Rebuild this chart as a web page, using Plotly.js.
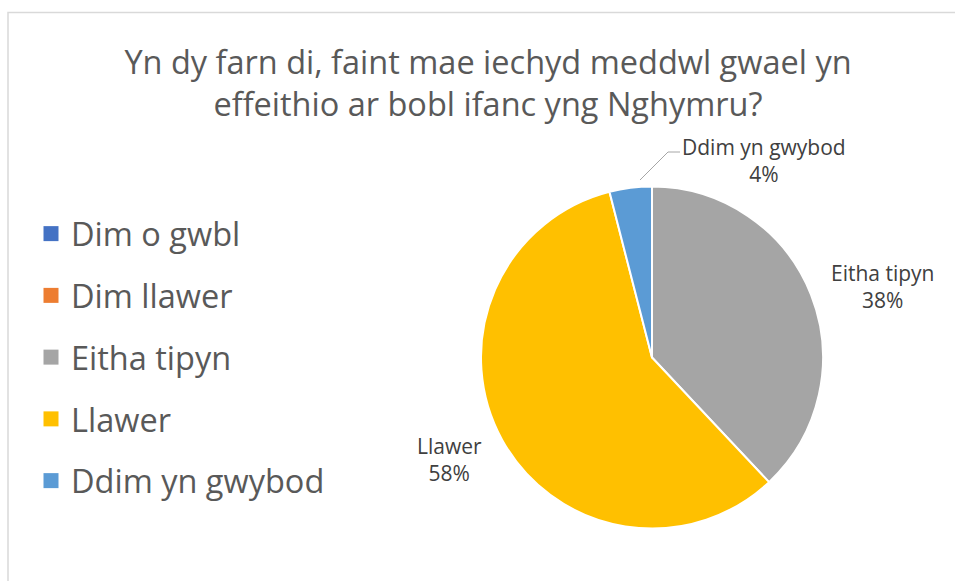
<!DOCTYPE html>
<html>
<head>
<meta charset="utf-8">
<script src="https://cdn.plot.ly/plotly-3.0.1.min.js"></script>
<style>
html,body{margin:0;padding:0;background:#fff;}
#chart{width:955px;height:581px;}
</style>
</head>
<body>
<div id="chart"></div>
<script>
var titleLines = ["Yn dy farn di, faint mae iechyd meddwl gwael yn", "effeithio ar bobl ifanc yng Nghymru?"];
var categories = ["Dim o gwbl", "Dim llawer", "Eitha tipyn", "Llawer", "Ddim yn gwybod"];
var values = [0, 0, 38, 58, 4];
var colors = ["#4472C4", "#ED7D31", "#A5A5A5", "#FFC000", "#5B9BD5"];

var W = 955, H = 581;
function px(x){ return x / W; }
function py(y){ return 1 - y / H; }

var total = values.reduce(function(a,b){return a+b;}, 0);
function pct(i){ return Math.round(values[i] / total * 100) + "%"; }

var cx = 652, cy = 357.5, r = 171;
var FONT = "'Open Sans', 'Noto Sans', sans-serif";

var traces = [{
  type: "pie",
  labels: categories,
  values: values,
  sort: false,
  direction: "clockwise",
  rotation: 0,
  marker: {colors: colors, line: {color: "#ffffff", width: 2}},
  textinfo: "none",
  hoverinfo: "label+percent",
  showlegend: false,
  domain: {x: [px(cx - r), px(cx + r)], y: [py(cy + r), py(cy - r)]}
}];

categories.forEach(function(c, i){
  traces.push({
    type: "scatter",
    mode: "markers",
    x: [null], y: [null],
    name: c,
    legendgroup: "g" + i,
    marker: {symbol: "square", size: 15, color: colors[i]},
    showlegend: true,
    hoverinfo: "skip"
  });
});

var labelFont = {family: FONT, size: 21, color: "#404040"};
var labelPos = {2: [883, 286], 3: [449, 460], 4: [764, 160]};
var annotations = [];
[2, 3, 4].forEach(function(i){
  annotations.push({
    xref: "paper", yref: "paper",
    x: px(labelPos[i][0]), y: py(labelPos[i][1]),
    xanchor: "center", yanchor: "middle",
    text: categories[i] + "<br>" + pct(i),
    showarrow: false,
    align: "center",
    font: labelFont
  });
});

var layout = {
  width: W, height: H,
  margin: {l: 0, r: 0, t: 0, b: 0},
  paper_bgcolor: "#ffffff",
  plot_bgcolor: "rgba(0,0,0,0)",
  title: {
    text: titleLines.join("<br>"),
    x: px(488), xanchor: "center",
    y: py(74), yanchor: "middle",
    yref: "container",
    font: {family: FONT, size: 32.5, color: "#595959"}
  },
  xaxis: {visible: false},
  yaxis: {visible: false},
  showlegend: true,
  legend: {
    x: px(31), xanchor: "left",
    y: py(206), yanchor: "top",
    font: {family: FONT, size: 32.5, color: "#595959"},
    tracegroupgap: 16.5,
    bgcolor: "rgba(0,0,0,0)"
  },
  annotations: annotations,
  shapes: [
    {type: "rect", xref: "paper", yref: "paper",
     x0: px(8), x1: px(W + 10), y0: py(H + 10), y1: py(12.5),
     line: {color: "#D9D9D9", width: 1.5}, fillcolor: "rgba(0,0,0,0)", layer: "below"},
    {type: "path", xref: "paper", yref: "paper",
     path: "M" + px(640) + "," + py(180) + " L" + px(668) + "," + py(152) + " L" + px(680) + "," + py(152),
     line: {color: "#A6A6A6", width: 1}}
  ]
};

Plotly.newPlot("chart", traces, layout, {displayModeBar: false, staticPlot: true});
</script>
</body>
</html>
